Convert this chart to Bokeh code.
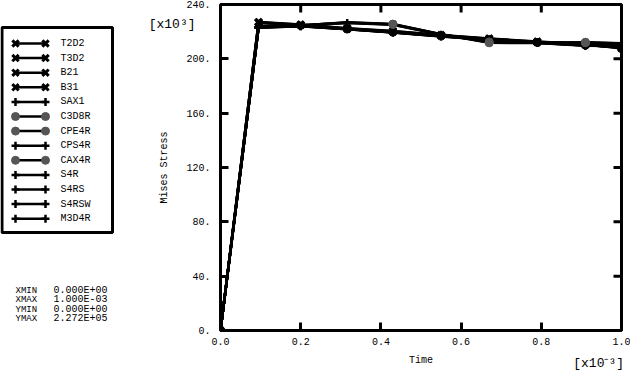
import numpy as np
from bokeh.plotting import figure
from bokeh.layouts import row
from bokeh.models import Range1d, FixedTicker, LinearAxis
from bokeh.core.properties import value
from bokeh.embed import file_html
from bokeh.resources import INLINE

# ---------------- data (as displayed: time x1e-3, stress x1e3) ----------------
time = [0.0, 0.095, 0.2, 0.316, 0.43, 0.55, 0.67, 0.79, 0.91, 1.0]

T2D2 = [0.0, 226.6, 224.9, 222.2, 220.0, 217.1, 214.6, 212.3, 210.4, 208.6]
T3D2 = [0.0, 226.8, 224.7, 222.0, 219.8, 216.9, 214.4, 212.1, 210.2, 208.3]
B21 = [0.0, 227.0, 225.1, 222.4, 220.3, 217.3, 214.8, 212.5, 210.6, 208.0]
B31 = [0.0, 227.2, 225.3, 222.6, 220.5, 217.5, 215.0, 212.7, 210.8, 207.6]
SAX1 = [0.0, 223.2, 224.2, 222.0, 219.6, 216.8, 214.2, 212.0, 210.0, 208.8]
C3D8R = [0.0, 224.0, 224.6, 226.9, 225.6, 218.2, 212.0, 211.8, 212.0, 211.2]
CPE4R = [0.0, 224.2, 224.8, 226.6, 225.3, 218.0, 212.4, 212.0, 211.8, 211.0]
CPS4R = [0.0, 223.4, 224.4, 226.4, 225.0, 217.8, 213.0, 212.2, 211.4, 210.6]
CAX4R = [0.0, 223.8, 224.5, 226.7, 225.4, 218.1, 211.8, 211.6, 212.2, 211.4]
S4R = [0.0, 223.0, 224.0, 221.8, 219.4, 216.6, 214.0, 211.8, 209.8, 209.2]
S4RS = [0.0, 223.1, 224.1, 221.9, 219.5, 216.7, 214.1, 211.9, 209.9, 209.0]
S4RSW = [0.0, 222.9, 223.9, 221.7, 219.3, 216.5, 213.9, 211.7, 209.7, 209.4]
M3D4R = [0.0, 223.3, 224.3, 222.1, 219.7, 216.9, 214.3, 212.1, 210.1, 208.9]

series_names = ["T2D2", "T3D2", "B21", "B31", "SAX1", "C3D8R", "CPE4R",
                "CPS4R", "CAX4R", "S4R", "S4RS", "S4RSW", "M3D4R"]
series_values = [T2D2, T3D2, B21, B31, SAX1, C3D8R, CPE4R,
                 CPS4R, CAX4R, S4R, S4RS, S4RSW, M3D4R]

x_ticks = [0.0, 0.2, 0.4, 0.6, 0.8, 1.0]
x_tick_labels = ["0.0", "0.2", "0.4", "0.6", "0.8", "1.0"]
y_ticks = [0, 40, 80, 120, 160, 200, 240]
y_tick_labels = ["0.", "40.", "80.", "120.", "160.", "200.", "240."]
x_title = "Time"
y_title = "Mises Stress"
x_multiplier = "[x10\u207b\u00b3]"
y_multiplier = "[x10\u00b3]"

stats_names = ["XMIN", "XMAX", "YMIN", "YMAX"]
stats_values = ["0.000E+00", "1.000E-03", "0.000E+00", "2.272E+05"]

# ---------------- styles ----------------
FONT = "Liberation Mono"
GREY = "#555555"
marker_kind = {"T2D2": "x", "T3D2": "x", "B21": "x", "B31": "x",
               "SAX1": "cross", "C3D8R": "circle", "CPE4R": "circle",
               "CPS4R": "cross", "CAX4R": "circle", "S4R": "cross",
               "S4RS": "cross", "S4RSW": "cross", "M3D4R": "cross"}
circle_idx = [4, 6, 8]


def marker_style(kind):
    if kind == "x":
        return dict(marker="x", size=9, line_width=3, line_color="black")
    if kind == "cross":
        return dict(marker="cross", size=8, line_width=2.5, line_color="black")
    return dict(marker="circle", size=8, line_color=GREY, fill_color=GREY)


H = 373
TOP, BOTTOM = 4, 43
LEFT_W, MAIN_W = 143, 487

# ---------------- main plot ----------------
p = figure(width=MAIN_W, height=H, x_range=Range1d(0, 1.0), y_range=Range1d(0, 240),
           output_backend="svg", toolbar_location=None,
           min_border_left=77, min_border_right=9, min_border_top=TOP, min_border_bottom=BOTTOM)
p.grid.visible = False
p.outline_line_color = "black"
p.outline_line_width = 3
p.background_fill_color = "white"
p.border_fill_color = "white"


def style_axis(ax, ticks, labels):
    ax.ticker = FixedTicker(ticks=ticks)
    ax.major_label_overrides = {t: l for t, l in zip(ticks, labels)}
    ax.axis_line_color = None
    ax.major_tick_in = 8
    ax.major_tick_out = 0
    ax.major_tick_line_width = 3
    ax.major_tick_line_color = "black"
    ax.minor_tick_line_color = None
    ax.major_label_text_font = FONT
    ax.major_label_text_color = "black"
    ax.major_label_text_font_size = "10px"
    ax.axis_label_text_font = FONT
    ax.axis_label_text_font_size = "10px"
    ax.axis_label_text_font_style = "normal"
    ax.axis_label_text_color = "black"


xa = p.xaxis[0]
style_axis(xa, x_ticks, x_tick_labels)
xa.major_label_standoff = 7
xa.axis_label = x_title
xa.axis_label_standoff = 7

ya = p.yaxis[0]
style_axis(ya, y_ticks, y_tick_labels)
ya.major_label_standoff = 10
ya.axis_label = y_title
ya.axis_label_standoff = 13


def multiplier_axis(pos, text, standoff):
    return LinearAxis(ticker=FixedTicker(ticks=[pos]), major_label_overrides={pos: text},
                      axis_line_color=None, major_tick_line_color=None,
                      minor_tick_line_color=None, major_tick_in=0, major_tick_out=0,
                      major_label_text_font=FONT, major_label_text_font_size="13px",
                      major_label_text_color="black", major_label_standoff=standoff)


p.add_layout(multiplier_axis(225, y_multiplier, -39), "left")
p.add_layout(multiplier_axis(0.943, x_multiplier, -13), "below")

# tick marks on the top and right edges (half of each dash is clipped by the frame)
p.scatter(x=x_ticks[1:-1], y=[y_ticks[-1]] * (len(x_ticks) - 2), marker="dash",
          angle=np.pi / 2, size=16, line_width=3, line_color="black")
p.scatter(x=[x_ticks[-1]] * (len(y_ticks) - 2), y=y_ticks[1:-1], marker="dash",
          size=16, line_width=3, line_color="black")

for name, vals in zip(series_names, series_values):
    p.line(time, vals, line_color="black", line_width=2.5)
for name, vals in zip(series_names, series_values):
    kind = marker_kind[name]
    if kind != "circle":
        p.scatter(time, vals, **marker_style(kind))
for name, vals in zip(series_names, series_values):
    if marker_kind[name] == "circle":
        p.scatter([time[i] for i in circle_idx], [vals[i] for i in circle_idx],
                  **marker_style("circle"))

# ---------------- legend / info panel (coordinates = canvas pixels) ----------------
lg = figure(width=LEFT_W, height=H, x_range=Range1d(0, LEFT_W), y_range=Range1d(H - BOTTOM, TOP),
            output_backend="svg", toolbar_location=None, x_axis_type=None, y_axis_type=None,
            min_border_left=0, min_border_right=0, min_border_top=TOP, min_border_bottom=BOTTOM)
lg.grid.visible = False
lg.outline_line_color = None
lg.border_fill_color = "white"

lg.quad(left=1.5, right=112, top=27, bottom=232, fill_color="white",
        line_color="black", line_width=3)
n = len(series_names)
ys = 43 + 14.6 * np.arange(n)
lg.segment(x0=[15] * n, y0=list(ys), x1=[45] * n, y1=list(ys), line_color="black", line_width=2.5)
for i, name in enumerate(series_names):
    lg.scatter([15, 45], [ys[i], ys[i]], **marker_style(marker_kind[name]))
lg.text(x=[60] * n, y=list(ys), text=series_names, text_font=value(FONT),
        text_font_size="10px", text_baseline="middle", text_color="black")

sy = [290, 299, 309, 318]
lg.text(x=[15] * 4, y=sy, text=stats_names, text_font=value(FONT),
        text_font_size="9px", text_baseline="middle", text_color="black")
lg.text(x=[53] * 4, y=sy, text=stats_values, text_font=value(FONT),
        text_font_size="10px", text_baseline="middle", text_color="black")

layout = row(lg, p)
open("out.html", "w").write(file_html(layout, INLINE))
